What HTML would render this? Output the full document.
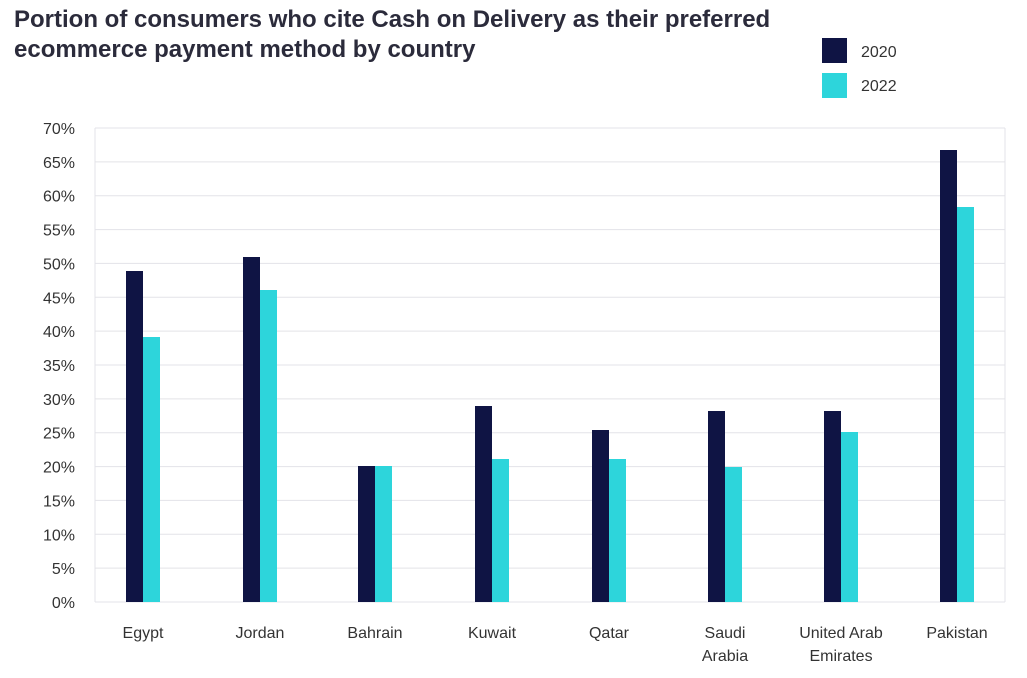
<!DOCTYPE html>
<html><head><meta charset="utf-8"><style>
body{margin:0;background:#fff;}
svg{display:block;font-family:"Liberation Sans",sans-serif;}
</style></head><body>
<svg width="1027" height="678" viewBox="0 0 1027 678">
<text x="14" y="27" font-size="24" font-weight="bold" fill="#2b2b3b">Portion of consumers who cite Cash on Delivery as their preferred</text>
<text x="14" y="57" font-size="24" font-weight="bold" fill="#2b2b3b">ecommerce payment method by country</text>
<rect x="822" y="38" width="25" height="25" fill="#0f1444"/>
<text x="861" y="57" font-size="16" fill="#333">2020</text>
<rect x="822" y="73" width="25" height="25" fill="#2dd5db"/>
<text x="861" y="91" font-size="16" fill="#333">2022</text>
<g stroke="#e3e3e8" stroke-width="1">
<line x1="95" y1="128" x2="95" y2="602"/>
<line x1="1005" y1="128" x2="1005" y2="602"/>
</g>
<g id="grid" stroke="#e3e3e8" stroke-width="1"></g>
<g id="lab" font-size="16" fill="#333" text-anchor="end"></g>
<g id="bars"></g>
<g font-size="16" fill="#333" text-anchor="middle">
<text x="143" y="638">Egypt</text>
<text x="260" y="638">Jordan</text>
<text x="375" y="638">Bahrain</text>
<text x="492" y="638">Kuwait</text>
<text x="609" y="638">Qatar</text>
<text x="725" y="638">Saudi</text>
<text x="725" y="661">Arabia</text>
<text x="841" y="638">United Arab</text>
<text x="841" y="661">Emirates</text>
<text x="957" y="638">Pakistan</text>
</g>
<script>
var ns="http://www.w3.org/2000/svg",g=document.getElementById("grid"),l=document.getElementById("lab"),b=document.getElementById("bars");
for(var i=0;i<=14;i++){var y=602-i*33.857;
var ln=document.createElementNS(ns,"line");ln.setAttribute("x1",95);ln.setAttribute("x2",1005);ln.setAttribute("y1",y);ln.setAttribute("y2",y);g.appendChild(ln);
var t=document.createElementNS(ns,"text");t.setAttribute("x",75);t.setAttribute("y",y+6);t.textContent=(i*5)+"%";l.appendChild(t);}
var d=[[126,271,337],[243,257,290],[358,466,466],[475,406,459],[592,430,459],[708,411,467],[824,411,432],[940,150,207]];
d.forEach(function(r){[[r[0],r[1],"#0f1444"],[r[0]+17,r[2],"#2dd5db"]].forEach(function(q){var re=document.createElementNS(ns,"rect");re.setAttribute("x",q[0]);re.setAttribute("y",q[1]);re.setAttribute("width",17);re.setAttribute("height",602-q[1]);re.setAttribute("fill",q[2]);b.appendChild(re);});});
</script>
</svg>
</body></html>
